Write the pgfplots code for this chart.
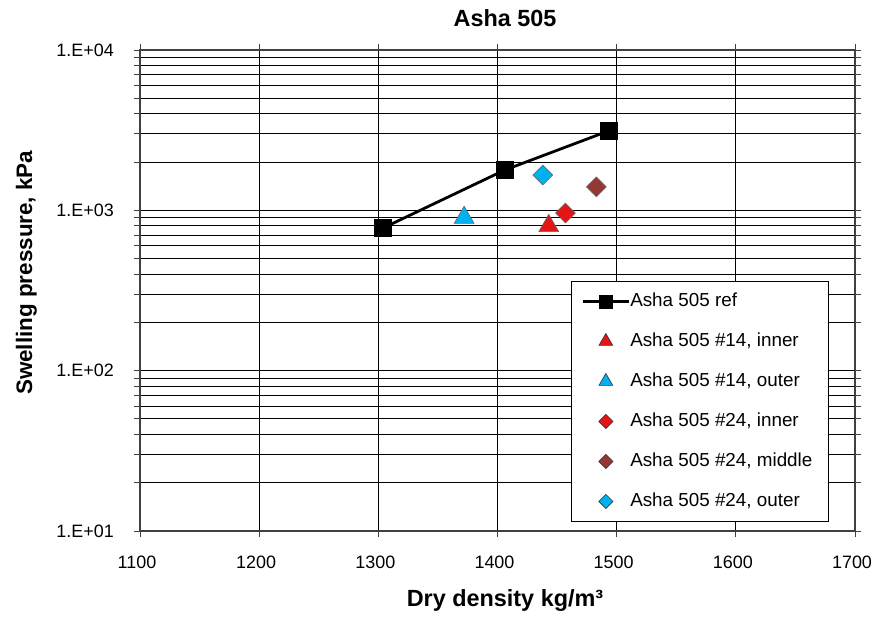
\documentclass[border=0pt]{standalone}
\usepackage{pgfplots}
\pgfplotsset{compat=1.18}
\usetikzlibrary{calc}
\usepackage{fontspec}
\setmainfont{Liberation Sans}
\definecolor{cred}{RGB}{230,20,20}
\definecolor{cblue}{RGB}{0,176,240}
\definecolor{cbrown}{RGB}{150,55,53}
\begin{document}
\begin{tikzpicture}
\begin{axis}[
  scale only axis,
  width=715bp, height=481bp,
  xmin=1100, xmax=1700,
  ymode=log, ymin=10, ymax=10000,
  xtick={1100,1200,1300,1400,1500,1600,1700},
  ytick={10,100,1000,10000},
  yticklabels={1.E+01,1.E+02,1.E+03,1.E+04},
  /pgf/number format/assume math mode=true,
  /pgf/number format/1000 sep={},
  tick label style={font=\fontsize{18}{21}\selectfont},
  xticklabel style={anchor=base, yshift=-31bp, xshift=-3bp},
  yticklabel style={anchor=east, inner xsep=0bp, xshift=-20bp},
  grid=both,
  major grid style={black, line width=0.9bp},
  minor grid style={black, line width=0.9bp},
  axis line style={black!75, line width=1.1bp},
  tick style={black!75, line width=0.9bp},
  tick align=outside,
  major tick length=6bp, minor tick length=6bp,
  title={\textbf{Asha 505}},
  title style={font=\fontsize{23.5}{27}\selectfont, at={(axis description cs:0.5105,1)}, anchor=base, yshift=18bp},
  xlabel={\textbf{Dry density kg/m³}},
  ylabel={\textbf{Swelling pressure, kPa}},
  xlabel style={font=\fontsize{23.5}{27}\selectfont, at={(axis description cs:0.5105,0)}, anchor=base, yshift=-75bp},
  ylabel style={font=\fontsize{22.5}{26}\selectfont, at={(axis description cs:-0.151,0.537)}, anchor=base},
  legend style={at={(0.6028,0.5198)}, anchor=north west, draw=black, line width=0.9bp,
    font=\fontsize{18.9}{21}\selectfont, row sep=22bp, inner xsep=10bp, inner ysep=11bp,
    nodes={inner sep=0bp, text height=14bp, text depth=4bp},
    /tikz/every even column/.append style={column sep=4bp},
    cells={anchor=west}},
  legend cell align=left,
]
\addplot[black, line width=2.8bp, mark=square*, mark size=8.5bp, mark options={solid, fill=black, line width=0.5bp},
  legend image code/.code={
    \draw[black, line width=2.8bp] (0bp,0bp) -- (46bp,0bp);
    \draw plot[only marks, mark=square*, mark size=6.5bp, mark options={fill=black, draw=black, line width=0.5bp}] coordinates {(23bp,0bp)};
  }]
  coordinates {(1304,776) (1406,1783) (1493,3125)};
\addlegendentry{Asha 505 ref}
\addplot[only marks, mark=triangle*, mark size=11.5bp, mark options={fill=cred, draw=black!60, line width=0.6bp},
  legend image code/.code={
    \draw plot[only marks, mark=triangle*, mark size=8bp, mark options={fill=cred, draw=black!80, line width=0.6bp}] coordinates {(23bp,0bp)};
  }]
  coordinates {(1443,800)};
\addlegendentry{Asha 505 \#14, inner}
\addplot[only marks, mark=triangle*, mark size=11.5bp, mark options={fill=cblue, draw=black!60, line width=0.6bp},
  legend image code/.code={
    \draw plot[only marks, mark=triangle*, mark size=8bp, mark options={fill=cblue, draw=black!80, line width=0.6bp}] coordinates {(23bp,0bp)};
  }]
  coordinates {(1372,900)};
\addlegendentry{Asha 505 \#14, outer}
\addplot[only marks, mark=square*, mark size=7bp, mark options={rotate=45, fill=cred, draw=black!60, line width=0.6bp},
  legend image code/.code={
    \draw plot[only marks, mark=square*, mark size=5bp, mark options={rotate=45, fill=cred, draw=black!80, line width=0.6bp}] coordinates {(23bp,0bp)};
  }]
  coordinates {(1457,962)};
\addlegendentry{Asha 505 \#24, inner}
\addplot[only marks, mark=square*, mark size=7bp, mark options={rotate=45, fill=cbrown, draw=black!60, line width=0.6bp},
  legend image code/.code={
    \draw plot[only marks, mark=square*, mark size=5bp, mark options={rotate=45, fill=cbrown, draw=black!80, line width=0.6bp}] coordinates {(23bp,0bp)};
  }]
  coordinates {(1483,1400)};
\addlegendentry{Asha 505 \#24, middle\hspace*{6bp}}
\addplot[only marks, mark=square*, mark size=7bp, mark options={rotate=45, fill=cblue, draw=black!60, line width=0.6bp},
  legend image code/.code={
    \draw plot[only marks, mark=square*, mark size=5bp, mark options={rotate=45, fill=cblue, draw=black!80, line width=0.6bp}] coordinates {(23bp,0bp)};
  }]
  coordinates {(1438,1660)};
\addlegendentry{Asha 505 \#24, outer}
\end{axis}
\pgfresetboundingbox
\path ($(current axis.south west)+(-140bp,-86bp)$) rectangle ($(current axis.north east)+(18bp,50bp)$);
\end{tikzpicture}
\end{document}
